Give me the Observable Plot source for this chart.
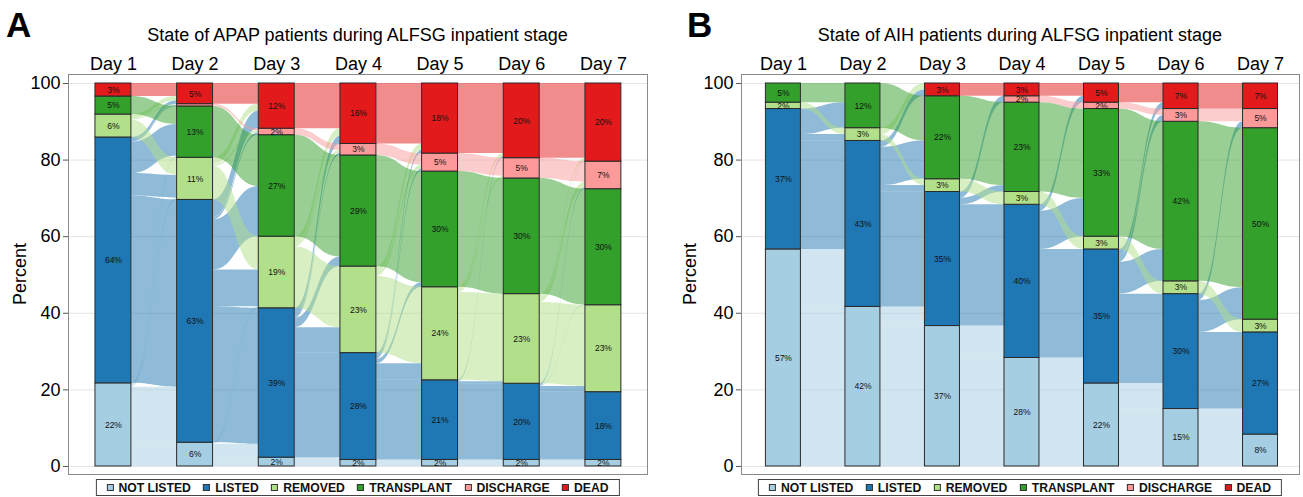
<!DOCTYPE html>
<html>
<head>
<meta charset="utf-8">
<script src="https://cdn.jsdelivr.net/npm/d3@7"></script>
<script src="https://cdn.jsdelivr.net/npm/@observablehq/plot@0.6"></script>
<style>
  html, body { margin: 0; padding: 0; background: #fff; }
  body { font-family: "Liberation Sans", Arial, sans-serif; color: #000; }
  #wrap { position: relative; width: 1303px; height: 497px; overflow: hidden; }
  .panel { position: absolute; top: 0; }
  .panel svg { display: block; }
  .abs { position: absolute; white-space: nowrap; }
  .letter { font-size: 35px; font-weight: bold; line-height: 35px; top: 7px; }
  .title { font-size: 18px; line-height: 18px; top: 26px; transform: translateX(-50%); }
  .ylab { font-size: 18px; line-height: 18px; top: 274px; transform: translate(-50%, -50%) rotate(-90deg); }
  .legend { top: 479px; height: 17px; box-sizing: border-box; border: 1px solid #444; display: flex;
            align-items: center; justify-content: center; gap: 12.5px; font-size: 12.2px; font-weight: bold;
            line-height: 14px; transform: translateX(-50%); padding: 0 10px; color: #111; }
  .legend .it { display: flex; align-items: center; gap: 5px; }
  .legend .sw { width: 7px; height: 7px; box-sizing: border-box; border: 1px solid #333; }
</style>
</head>
<body>
<div id="wrap"></div>
<script>
// ---------- shared categories ----------
const dayNumbers = [1, 2, 3, 4, 5, 6, 7];
const dayLabels = ["Day 1", "Day 2", "Day 3", "Day 4", "Day 5", "Day 6", "Day 7"];
const stateCodes = ["NL", "L", "R", "T", "DI", "DE"];
const stateNames = ["NOT LISTED", "LISTED", "REMOVED", "TRANSPLANT", "DISCHARGE", "DEAD"];
const stateColors = ["#a6cee3", "#1f78b4", "#b2df8a", "#33a02c", "#fb9a99", "#e31a1c"];
const yTicks = [0, 20, 40, 60, 80, 100];

// ---------- Panel A: APAP (percent of patients per day) ----------
const apapNotListed  = [21.7, 6.2, 2.3, 1.7, 1.7, 1.7, 1.7];
const apapListed     = [64.2, 63.4, 39.0, 27.9, 20.8, 19.9, 17.7];
const apapRemoved    = [6.0, 11.0, 18.7, 22.6, 24.3, 23.4, 22.7];
const apapTransplant = [4.7, 13.4, 26.5, 29.0, 30.2, 30.2, 30.3];
const apapDischarge  = [0, 0.6, 1.7, 3.0, 4.7, 5.3, 7.2];
const apapDead       = [3.4, 5.4, 11.8, 15.8, 18.3, 19.5, 20.4];

// transitions between consecutive days: [from, to, percent]
const apapFlow12 = [["NL","NL",6.2],["NL","L",14.5],["NL","R",0.5],["NL","T",0.5],
  ["L","L",48.9],["L","R",5.9],["L","T",8.2],["L","DI",0.3],["L","DE",0.9],
  ["R","R",4.6],["R","DI",0.3],["R","DE",1.1],["T","T",4.7],["DE","DE",3.4]];
const apapFlow23 = [["NL","NL",2.3],["NL","L",3.5],["NL","R",0.4],
  ["L","L",35.5],["L","R",9.6],["L","T",13.1],["L","DI",0.6],["L","DE",4.6],
  ["R","R",8.7],["R","DI",0.5],["R","DE",1.8],["T","T",13.4],["DI","DI",0.6],["DE","DE",5.4]];
const apapFlow34 = [["NL","NL",1.7],["NL","L",0.6],
  ["L","L",27.3],["L","R",6.6],["L","T",2.5],["L","DI",0.6],["L","DE",2.0],
  ["R","R",16.0],["R","DI",0.7],["R","DE",2.0],["T","T",26.5],["DI","DI",1.7],["DE","DE",11.8]];
const apapFlow45 = [["NL","NL",1.7],
  ["L","L",20.8],["L","R",4.3],["L","T",1.2],["L","DI",0.7],["L","DE",0.9],
  ["R","R",20.0],["R","DI",1.0],["R","DE",1.6],["T","T",29.0],["DI","DI",3.0],["DE","DE",15.8]];
const apapFlow56 = [["NL","NL",1.7],
  ["L","L",19.9],["L","R",0.5],["L","DE",0.4],
  ["R","R",22.9],["R","DI",0.6],["R","DE",0.8],["T","T",30.2],["DI","DI",4.7],["DE","DE",18.3]];
const apapFlow67 = [["NL","NL",1.7],
  ["L","L",17.7],["L","R",1.5],["L","T",0.1],["L","DI",0.4],["L","DE",0.2],
  ["R","R",21.2],["R","DI",1.5],["R","DE",0.7],["T","T",30.2],["DI","DI",5.3],["DE","DE",19.5]];

// ---------- Panel B: AIH (patient counts per day, of 60) ----------
const aihTotal = 60;
const aihNotListed  = [34, 25, 22, 17, 13, 9, 5];
const aihListed     = [22, 26, 21, 24, 21, 18, 16];
const aihRemoved    = [1, 2, 2, 2, 2, 2, 2];
const aihTransplant = [3, 7, 13, 14, 20, 25, 30];
const aihDischarge  = [0, 0, 0, 1, 1, 2, 3];
const aihDead       = [0, 0, 2, 2, 3, 4, 4];

const aihFlow12 = [["NL","NL",25],["NL","L",9],["L","L",17],["L","R",1],["L","T",4],["R","R",1],["T","T",3]];
const aihFlow23 = [["NL","NL",22],["NL","L",3],["L","L",18],["L","R",1],["L","T",6],["L","DE",1],
  ["R","R",1],["R","DE",1],["T","T",7]];
const aihFlow34 = [["NL","NL",17],["NL","L",5],["L","L",19],["L","T",1],["L","DI",1],["R","R",2],
  ["T","T",13],["DE","DE",2]];
const aihFlow45 = [["NL","NL",13],["NL","L",4],["L","L",17],["L","T",6],["L","DE",1],["R","R",2],
  ["T","T",14],["DI","DI",1],["DE","DE",2]];
const aihFlow56 = [["NL","NL",9],["NL","L",4],["L","L",14],["L","T",5],["L","DI",1],["L","DE",1],["R","R",2],
  ["T","T",20],["DI","DI",1],["DE","DE",3]];
const aihFlow67 = [["NL","NL",5],["NL","L",4],["L","L",12],["L","T",5],["L","DI",1],["R","R",2],
  ["T","T",25],["DI","DI",2],["DE","DE",4]];

// ---------- builder ----------
const hw = 0.22; // half bar width in day units

function buildPanel(cfg) {
  const S = cfg.strata.map(a => a.map(v => v * cfg.scale));
  const bars = [];
  const base = dayNumbers.map((_, t) => {
    let c = 0;
    return S.map((a, s) => { const b = c; if (a[t] > 0) bars.push({day: t + 1, s, y1: c, y2: c + a[t], v: a[t]}); c += a[t]; return b; });
  });
  const pts = [];
  cfg.flows.forEach((list, t) => {
    const F = list.map(([a, b, v], i) => ({from: stateCodes.indexOf(a), to: stateCodes.indexOf(b), v: v * cfg.scale, i}));
    for (let s = 0; s < stateCodes.length; s++) {
      const outs = F.filter(f => f.from === s).sort((p, q) => p.to - q.to);
      const tot = d3.sum(outs, f => f.v), k = tot ? S[s][t] / tot : 0;
      let c = base[t][s];
      for (const f of outs) { f.l0 = c; c += f.v * k; f.l1 = c; }
      const ins = F.filter(f => f.to === s).sort((p, q) => p.from - q.from);
      const tot2 = d3.sum(ins, f => f.v), k2 = tot2 ? S[s][t + 1] / tot2 : 0;
      let c2 = base[t + 1][s];
      for (const f of ins) { f.r0 = c2; c2 += f.v * k2; f.r1 = c2; }
    }
    for (const f of F) {
      const id = t + "-" + f.i;
      pts.push({id, src: f.from, x: t + 1 + hw, y1: f.l0, y2: f.l1});
      pts.push({id, src: f.from, x: t + 2 - hw, y1: f.r0, y2: f.r1});
    }
  });

  const marks = [
    Plot.gridY(yTicks, {stroke: "#e4e4e4", strokeOpacity: 1}),
    ...stateCodes.map((_, s) => Plot.area(pts.filter(p => p.src === s), {
      x1: "x", y1: "y1", y2: "y2", z: "id", curve: "bump-x", fill: stateColors[s], fillOpacity: 0.5
    })),
    Plot.rect(bars, {x1: d => d.day - hw, x2: d => d.day + hw, y1: "y1", y2: "y2",
      fill: d => stateColors[d.s], stroke: "#2a2a2a", strokeWidth: 1}),
    Plot.text(bars.filter(d => d.v >= 1), {x: "day", y: d => (d.y1 + d.y2) / 2,
      text: d => Math.round(d.v) + "%", fontSize: 8.5, fill: "#111"}),
    Plot.frame({stroke: "#8a8a8a"}),
    Plot.axisY(yTicks, {tickSize: 5, tickPadding: 3, fontSize: 18, label: null, stroke: "#555"}),
    Plot.axisX(dayNumbers, {anchor: "top", tickSize: 0, tickPadding: 5, fontSize: 18, label: null,
      tickFormat: d => dayLabels[d - 1]})
  ];

  const svg = Plot.plot({
    width: cfg.width, height: 478,
    marginTop: 74, marginBottom: 4, marginLeft: cfg.marginLeft, marginRight: cfg.marginRight,
    x: {type: "linear", domain: cfg.domainX},
    y: {domain: [-2.1, 102.35]},
    color: {type: "identity"},
    style: {fontFamily: "'Liberation Sans', Arial, sans-serif", background: "transparent", overflow: "visible", color: "#000"},
    marks
  });

  const panel = document.createElement("div");
  panel.className = "panel";
  panel.style.left = cfg.left + "px";
  panel.style.width = cfg.width + "px";
  panel.style.height = "497px";
  panel.appendChild(svg);

  const frameCenter = cfg.marginLeft + (cfg.width - cfg.marginLeft - cfg.marginRight) / 2;

  const letter = document.createElement("div");
  letter.className = "abs letter";
  letter.style.left = cfg.letterX + "px";
  letter.textContent = cfg.letter;
  panel.appendChild(letter);

  const title = document.createElement("div");
  title.className = "abs title";
  title.style.left = frameCenter + "px";
  title.textContent = cfg.title;
  panel.appendChild(title);

  const ylab = document.createElement("div");
  ylab.className = "abs ylab";
  ylab.style.left = cfg.ylabX + "px";
  ylab.textContent = "Percent";
  panel.appendChild(ylab);

  const legend = document.createElement("div");
  legend.className = "abs legend";
  legend.style.left = frameCenter + "px";
  stateNames.forEach((n, i) => {
    const it = document.createElement("div");
    it.className = "it";
    const sw = document.createElement("div");
    sw.className = "sw";
    sw.style.background = stateColors[i];
    const tx = document.createElement("span");
    tx.textContent = n;
    it.appendChild(sw); it.appendChild(tx);
    legend.appendChild(it);
  });
  panel.appendChild(legend);

  document.getElementById("wrap").appendChild(panel);
}

buildPanel({
  left: 0, width: 650, marginLeft: 68, marginRight: 3, domainX: [0.45, 7.54],
  strata: [apapNotListed, apapListed, apapRemoved, apapTransplant, apapDischarge, apapDead],
  flows: [apapFlow12, apapFlow23, apapFlow34, apapFlow45, apapFlow56, apapFlow67],
  scale: 1, letter: "A", letterX: 6, ylabX: 20,
  title: "State of APAP patients during ALFSG inpatient stage"
});
buildPanel({
  left: 650, width: 653, marginLeft: 91, marginRight: 4, domainX: [0.473, 7.49],
  strata: [aihNotListed, aihListed, aihRemoved, aihTransplant, aihDischarge, aihDead],
  flows: [aihFlow12, aihFlow23, aihFlow34, aihFlow45, aihFlow56, aihFlow67],
  scale: 100 / aihTotal, letter: "B", letterX: 37, ylabX: 40,
  title: "State of AIH patients during ALFSG inpatient stage"
});
</script>
</body>
</html>
